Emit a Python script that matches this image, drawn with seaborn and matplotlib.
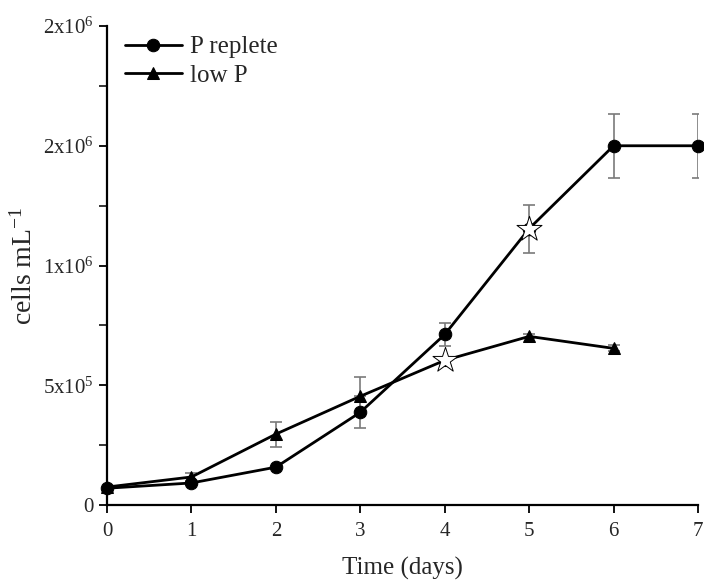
import numpy as np
import pandas as pd
import matplotlib
matplotlib.use("Agg")
import matplotlib.pyplot as plt
import seaborn as sns
from matplotlib.ticker import MultipleLocator

# values
days = [0, 1, 2, 3, 4, 5, 6, 7]
replete = [70000, 92000, 158000, 387000, 712000, 1154000, 1500000, 1500000]
replete_err = [np.nan, np.nan, np.nan, 67000, 50000, 100000, 133000, 133000]
lowp_days = [0, 1, 2, 3, 4, 5, 6]
lowp = [75000, 117000, 296000, 454000, 604000, 704000, 654000]
lowp_err = [np.nan, 15000, 52000, 80000, np.nan, 8000, 12000]

# star markers (significant points)
star_x = [5, 4]
star_y = [1154000, 604000]

yticks = [0, 500000, 1000000, 1500000, 2000000]
ytick_labels = ["0", "5x10$^5$", "1x10$^6$", "2x10$^6$", "2x10$^6$"]

sns.set_style("ticks")
plt.rcParams["font.family"] = ["Liberation Serif", "DejaVu Serif"]
plt.rcParams["mathtext.fontset"] = "custom"
plt.rcParams["mathtext.rm"] = "Liberation Serif"
plt.rcParams["mathtext.default"] = "regular"

df = pd.DataFrame({
    "day": days + lowp_days,
    "cells": replete + lowp,
    "treatment": ["P replete"] * len(days) + ["low P"] * len(lowp_days),
})

fig = plt.figure(figsize=(7.04, 5.82), dpi=100)
ax = fig.add_axes([0.152, 0.1323, 0.8395, 0.823])

ax.errorbar(days, replete, yerr=replete_err, fmt="none", ecolor="#7a7a7a",
            elinewidth=1.2, capsize=4, capthick=1.2, zorder=1)
ax.errorbar(lowp_days, lowp, yerr=lowp_err, fmt="none", ecolor="#7a7a7a",
            elinewidth=1.2, capsize=4, capthick=1.2, zorder=1)

sns.lineplot(data=df, x="day", y="cells", style="treatment",
             markers={"P replete": "o", "low P": "^"}, dashes=False,
             color="black", linewidth=2, markersize=9, markeredgecolor="black",
             ax=ax, clip_on=False, zorder=2)

ax.scatter(star_x, star_y, marker="*", s=360, facecolor="white",
           edgecolor="black", linewidth=0.7, zorder=3, clip_on=False)

ax.set_xlim(0, 7)
ax.set_ylim(0, 2000000)
ax.set_xticks(days)
ax.set_yticks(yticks)
ax.set_yticklabels(ytick_labels)
ax.yaxis.set_minor_locator(MultipleLocator(250000))
ax.tick_params(axis="both", which="major", labelsize=15, direction="out",
               length=6, width=1.3, color="black")
ax.tick_params(axis="x", which="major", pad=6)
ax.tick_params(axis="y", which="minor", direction="out", length=6, width=1.3)
for s in ["left", "bottom"]:
    ax.spines[s].set_linewidth(1.6)
    ax.spines[s].set_color("black")
sns.despine(ax=ax)

ax.set_xlabel("Time (days)", fontsize=18, labelpad=12)
ax.set_ylabel("cells mL$^{-1}$", fontsize=20, labelpad=4)

leg = ax.legend(loc="upper left", bbox_to_anchor=(0.0, 1.016), frameon=False,
                fontsize=18, handlelength=2.3, handletextpad=0.3,
                labelspacing=0.25, borderaxespad=0.3)
leg.set_title(None)

fig.savefig("out.png", dpi=100)
